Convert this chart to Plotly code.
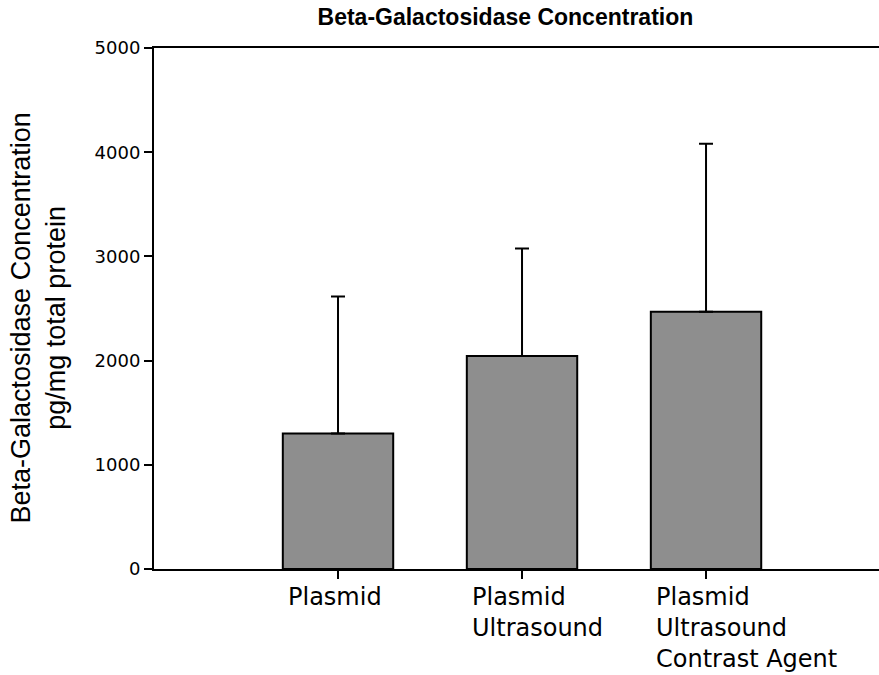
import plotly.graph_objects as go

categories = ["Plasmid", "Plasmid Ultrasound", "Plasmid Ultrasound Contrast Agent"]
label_lines = [["Plasmid"], ["Plasmid", "Ultrasound"], ["Plasmid", "Ultrasound", "Contrast Agent"]]
means = [1300, 2045, 2470]
errors_up = [1315, 1030, 1610]
y_ticks = [0, 1000, 2000, 3000, 4000, 5000]

fig = go.Figure()
fig.add_trace(go.Bar(
    x=categories, y=means, width=0.6,
    marker=dict(color="#8e8e8e", line=dict(color="black", width=2)),
    error_y=dict(type="data", array=errors_up, arrayminus=[0] * len(means),
                 symmetric=False, color="black", thickness=2, width=7),
))

for cat, lines in zip(categories, label_lines):
    fig.add_annotation(
        x=cat, y=0, xref="x", yref="y", xanchor="left", yanchor="top",
        xshift=-52, yshift=-12, align="left", showarrow=False,
        text="<br>".join(lines),
        font=dict(family="DejaVu Sans", size=24, color="black"),
    )

# y-axis title as rotated annotation
fig.add_annotation(
    x=-0.16, y=0.5, xref="paper", yref="paper", xanchor="center", yanchor="middle",
    yshift=-10, textangle=-90, showarrow=False,
    text="Beta-Galactosidase Concentration<br>pg/mg total protein",
    font=dict(family="Liberation Sans, Arial", size=27, color="black"),
)

fig.update_layout(
    width=879, height=675,
    margin=dict(l=154, r=0, t=48, b=106),
    plot_bgcolor="white", paper_bgcolor="white",
    showlegend=False,
    title=dict(text="<b>Beta-Galactosidase Concentration</b>", x=0.575, xanchor="center",
               y=0.975, yanchor="middle",
               font=dict(family="Liberation Sans, Arial", size=23, color="black")),
    xaxis=dict(range=[-1, 2.94], showticklabels=False, ticks="outside", ticklen=8,
               tickwidth=2, tickcolor="black", showline=True, linecolor="black",
               linewidth=2, mirror=True, showgrid=False, zeroline=False),
    yaxis=dict(range=[0, 5000], tickvals=y_ticks, ticktext=[str(v) for v in y_ticks],
               ticks="outside", ticklen=8, tickwidth=2, tickcolor="black",
               showline=True, linecolor="black", linewidth=2, showgrid=False,
               zeroline=False,
               tickfont=dict(family="DejaVu Sans", size=18, color="black")),
)

fig.write_html("out.html")
